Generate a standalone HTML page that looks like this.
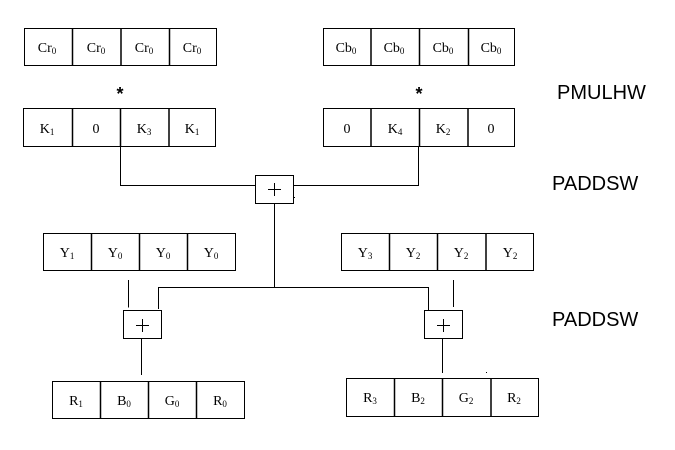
<!DOCTYPE html>
<html><head><meta charset="utf-8"><style>
html,body{margin:0;padding:0;background:#fff;}
svg{display:block;}
.c{font-family:"Liberation Serif",serif;font-size:14px;fill:#000;}
.s{font-size:9px;}
.l{font-family:"Liberation Sans",sans-serif;font-size:20px;fill:#000;}
</style></head><body>
<svg width="675" height="450" viewBox="0 0 675 450" xmlns="http://www.w3.org/2000/svg">
<g fill="none" stroke="#000" stroke-width="1">
<!-- Cr row -->
<rect x="24.5" y="28.5" width="192" height="37"/>
<path d="M72.5 28v38M121 28v38M169.5 28v38" stroke-width="1.5"/>
<!-- Cb row -->
<rect x="323.5" y="28.5" width="191" height="37"/>
<path d="M371 28v38M419.5 28v38M468.5 28v38" stroke-width="1.5"/>
<!-- K row -->
<rect x="23.5" y="108.5" width="192" height="38"/>
<path d="M72.5 108v39M120.5 108v39M169 108v39" stroke-width="1.5"/>
<!-- 0 row -->
<rect x="323.5" y="108.5" width="191" height="38"/>
<path d="M371 108v39M419.5 108v39M468 108v39" stroke-width="1.5"/>
<!-- Y left -->
<rect x="43.5" y="233.5" width="192" height="37"/>
<path d="M91.5 233v38M139.5 233v38M187.5 233v38" stroke-width="1.5"/>
<!-- Y right -->
<rect x="341.5" y="233.5" width="192" height="37"/>
<path d="M389.5 233v38M437.5 233v38M486 233v38" stroke-width="1.5"/>
<!-- R left -->
<rect x="52.5" y="381.5" width="192" height="37"/>
<path d="M100.5 381v38M148.5 381v38M196.5 381v38" stroke-width="1.5"/>
<!-- R right -->
<rect x="346.5" y="378.5" width="192" height="38"/>
<path d="M394.5 378v39M442.5 378v39M491 378v39" stroke-width="1.5"/>
<!-- plus boxes -->
<rect x="255.5" y="175.5" width="38" height="28"/>
<rect x="123.5" y="310.5" width="38" height="28"/>
<rect x="424.5" y="310.5" width="38" height="28"/>
<!-- connectors -->
<path d="M120.5 147V185.5H255.5"/>
<path d="M293.5 185.5H418.5V147"/>
<path d="M274.5 203.5V288"/>
<path d="M158.5 309V287.5H428.5V310"/>
<path d="M128.5 280V307.5"/>
<path d="M453.5 280V307"/>
<path d="M141.5 338.5V375"/>
<path d="M442.5 338.5V373"/>
</g>
<rect x="294" y="197" width="1" height="1" fill="#000"/>
<rect x="486" y="372" width="1" height="1" fill="#000"/>
<!-- plus signs -->
<g stroke="#000" stroke-width="1">
<path d="M268 189.5H281M274.5 183V196"/>
<path d="M136 325.5H149M142.5 319V332"/>
<path d="M437 325.5H450M443.5 319V332"/>
</g>
<!-- stars -->
<text x="120" y="100" text-anchor="middle" font-family="Liberation Sans,sans-serif" font-weight="bold" font-size="18">*</text>
<text x="419" y="100" text-anchor="middle" font-family="Liberation Sans,sans-serif" font-weight="bold" font-size="18">*</text>
<!-- labels -->
<text class="l" x="557" y="99">PMULHW</text>
<text class="l" x="552" y="190">PADDSW</text>
<text class="l" x="552" y="326">PADDSW</text>
<!-- cell text -->
<g class="c" text-anchor="middle">
<text x="47" y="52">Cr<tspan class="s" dy="2">0</tspan></text>
<text x="96" y="52">Cr<tspan class="s" dy="2">0</tspan></text>
<text x="144" y="52">Cr<tspan class="s" dy="2">0</tspan></text>
<text x="192" y="52">Cr<tspan class="s" dy="2">0</tspan></text>
<text x="346" y="52">Cb<tspan class="s" dy="2">0</tspan></text>
<text x="394" y="52">Cb<tspan class="s" dy="2">0</tspan></text>
<text x="443" y="52">Cb<tspan class="s" dy="2">0</tspan></text>
<text x="491" y="52">Cb<tspan class="s" dy="2">0</tspan></text>

<text x="47" y="133">K<tspan class="s" dy="2">1</tspan></text>
<text x="96" y="133">0</text>
<text x="144" y="133">K<tspan class="s" dy="2">3</tspan></text>
<text x="192" y="133">K<tspan class="s" dy="2">1</tspan></text>
<text x="347" y="133">0</text>
<text x="395" y="133">K<tspan class="s" dy="2">4</tspan></text>
<text x="443" y="133">K<tspan class="s" dy="2">2</tspan></text>
<text x="491" y="133">0</text>

<text x="67" y="257">Y<tspan class="s" dy="2">1</tspan></text>
<text x="115" y="257">Y<tspan class="s" dy="2">0</tspan></text>
<text x="163" y="257">Y<tspan class="s" dy="2">0</tspan></text>
<text x="211" y="257">Y<tspan class="s" dy="2">0</tspan></text>
<text x="365" y="257">Y<tspan class="s" dy="2">3</tspan></text>
<text x="413" y="257">Y<tspan class="s" dy="2">2</tspan></text>
<text x="461" y="257">Y<tspan class="s" dy="2">2</tspan></text>
<text x="510" y="257">Y<tspan class="s" dy="2">2</tspan></text>

<text x="76" y="405">R<tspan class="s" dy="2">1</tspan></text>
<text x="124" y="405">B<tspan class="s" dy="2">0</tspan></text>
<text x="172" y="405">G<tspan class="s" dy="2">0</tspan></text>
<text x="220" y="405">R<tspan class="s" dy="2">0</tspan></text>
<text x="370" y="402">R<tspan class="s" dy="2">3</tspan></text>
<text x="418" y="402">B<tspan class="s" dy="2">2</tspan></text>
<text x="466" y="402">G<tspan class="s" dy="2">2</tspan></text>
<text x="514" y="402">R<tspan class="s" dy="2">2</tspan></text>
</g>
</svg>
</body></html>
